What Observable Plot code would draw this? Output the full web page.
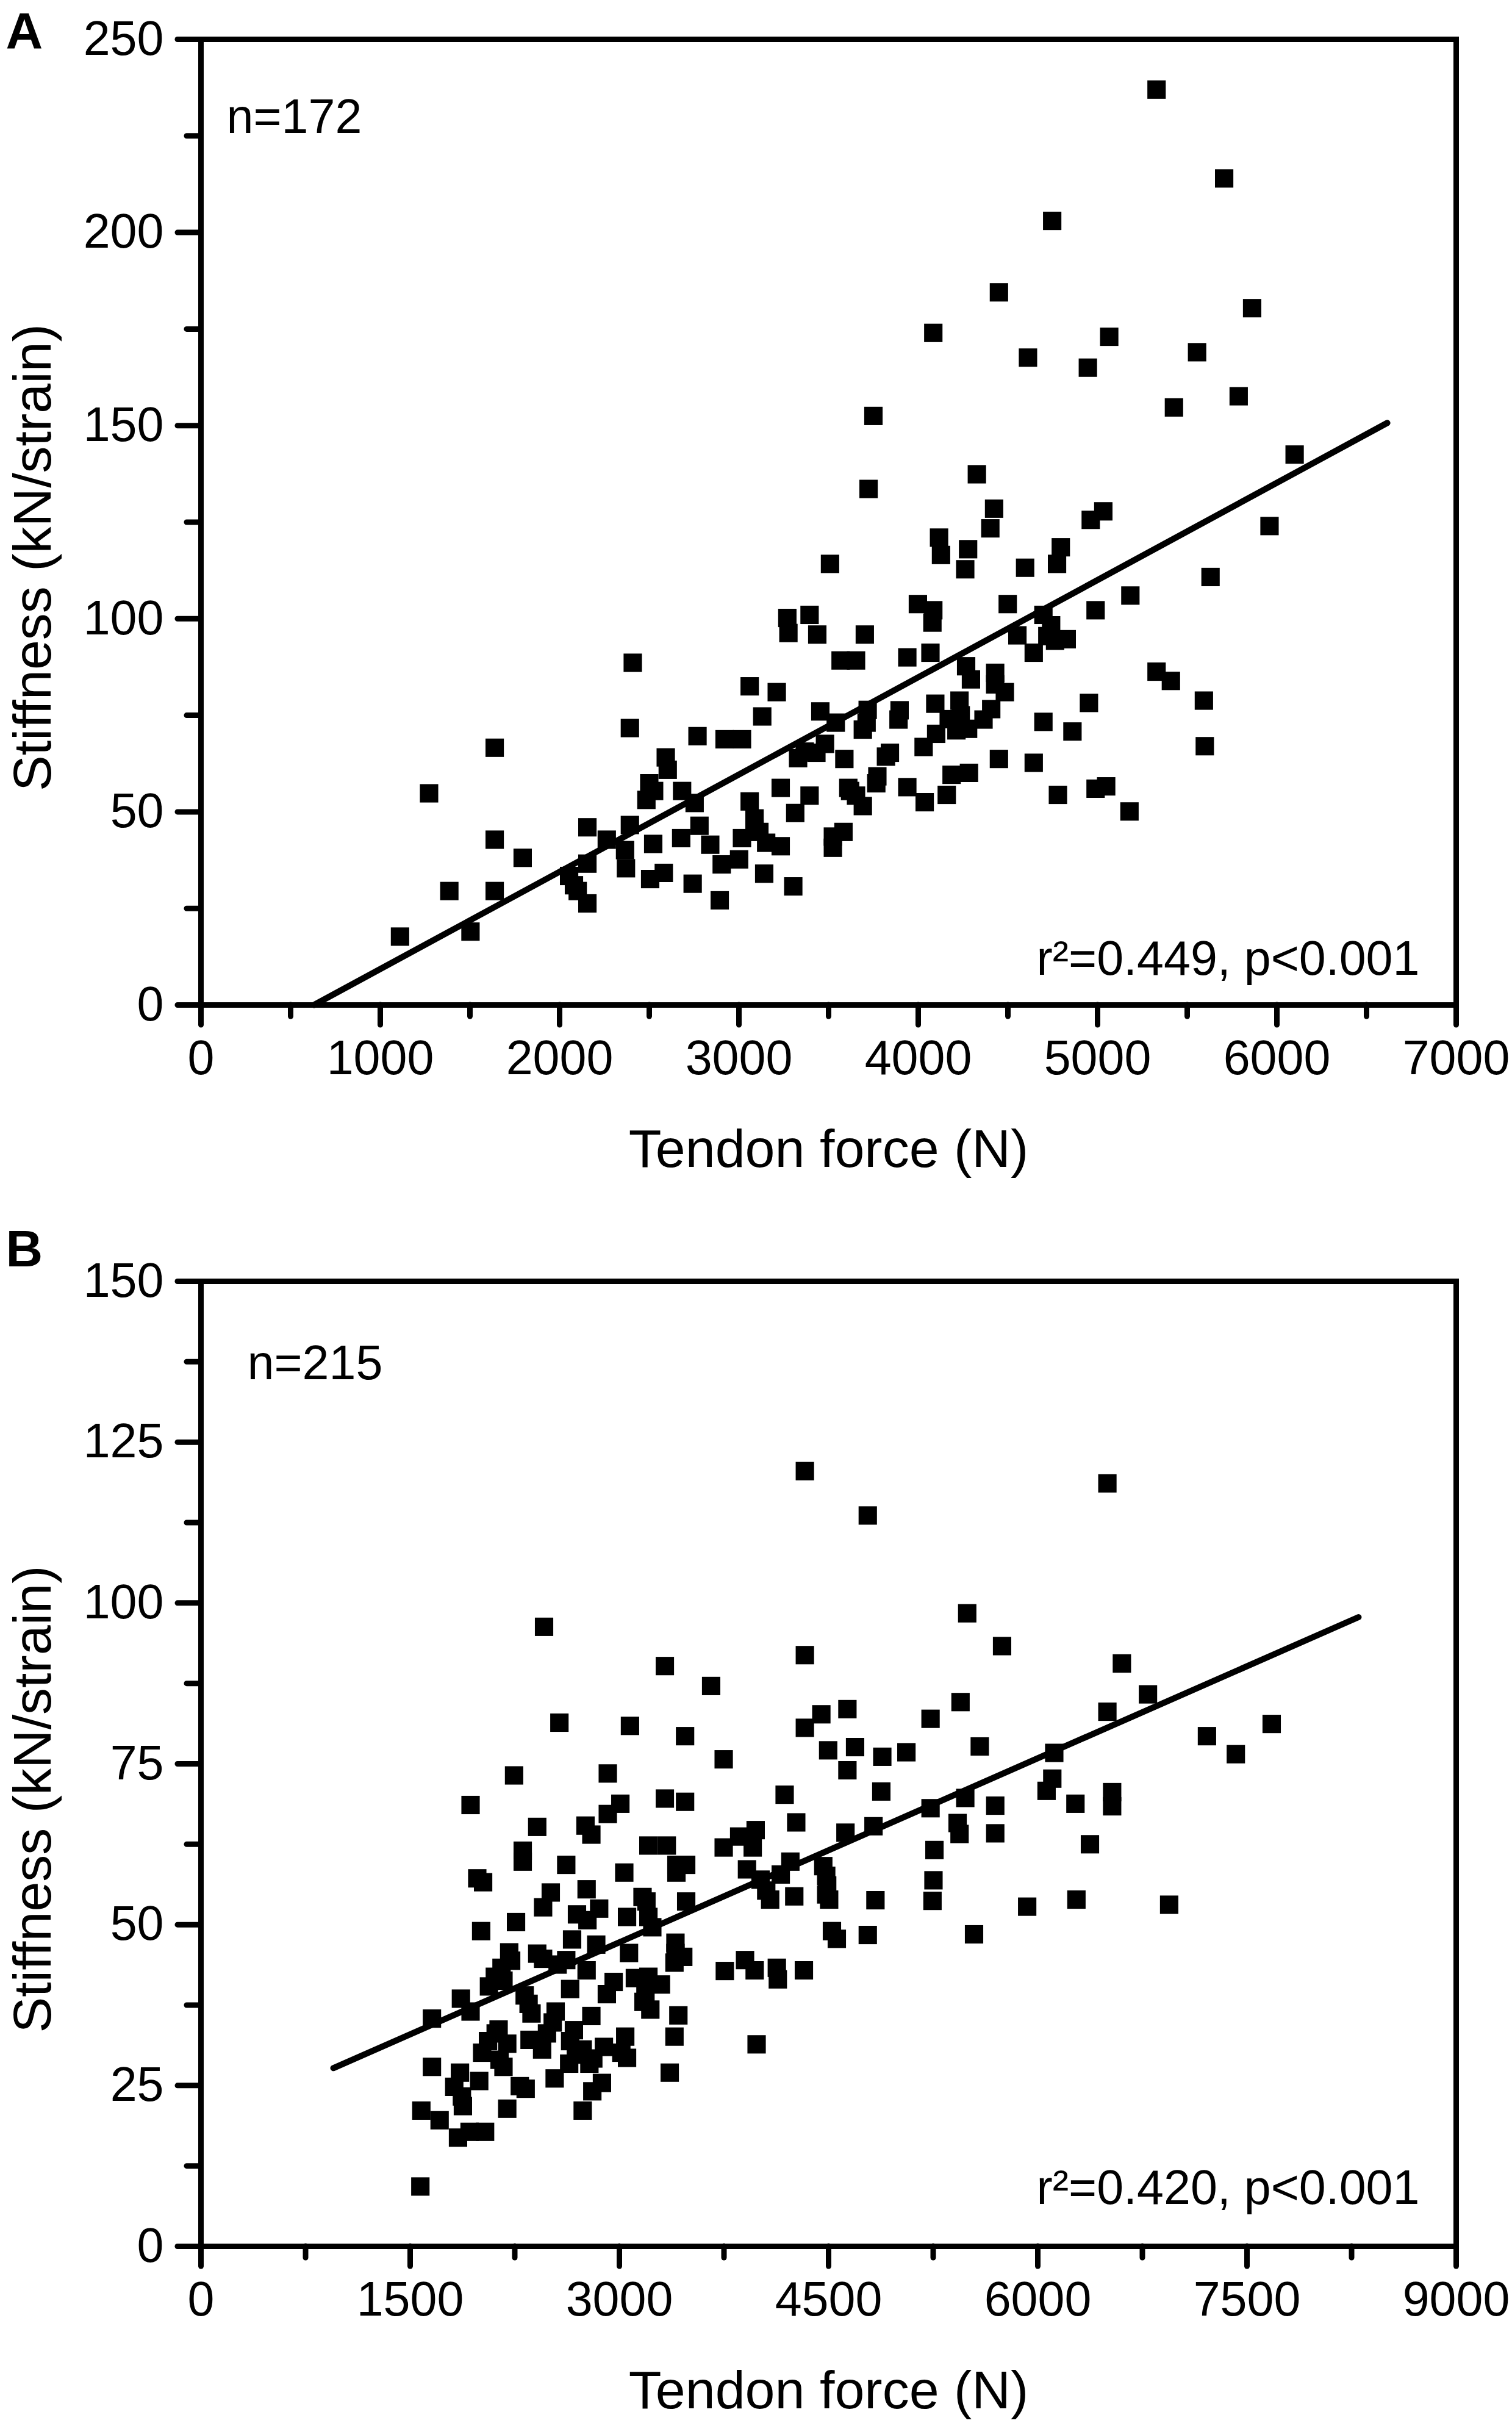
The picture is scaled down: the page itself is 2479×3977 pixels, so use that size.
<!DOCTYPE html>
<html>
<head>
<meta charset="utf-8">
<script src="https://cdn.jsdelivr.net/npm/d3@7"></script>
<script src="https://cdn.jsdelivr.net/npm/@observablehq/plot@0.6"></script>
<style>
  html, body { margin: 0; padding: 0; background: #fff; }
  svg { display: block; }
</style>
</head>
<body>
<div id="chart"></div>
<script>
// ---------- Panel A data ----------
const forceA = [5329,5706,4747,4450,5862,4084,5065,5555,4612,4946,5787,5426,3750,6099,3723,4327,4423,4402,5959,5032,
4962,4116,4127,4278,4795,4262,4774,4596,3508,5630,5183,3270,3394,3998,4084,4079,4499,4989,3276,3437,
3702,4553,4698,4741,4720,4763,4828,3567,3653,3939,4068,2408,4644,4267,4429,5329,5409,3060,3211,4294,
4429,4483,5593,4952,4095,4230,3454,3718,3130,3896,3890,4407,4364,4698,4170,4237,2392,2769,2920,3017,
3540,3691,3712,4860,4100,4213,4278,5598,1638,4030,3842,3820,2592,2603,3367,3480,3432,3588,3330,4450,
4644,4283,4186,3772,3766,3939,3610,3653,3691,2500,2527,2484,2683,2753,3233,3394,3620,4779,4989,5048,
4036,4159,5178,3060,3087,3314,1272,2155,2392,2780,3087,3114,3017,2263,2365,2522,2678,2840,3233,3152,
3524,3583,3524,1638,1794,2155,2370,2904,3001,2505,2581,2742,3141,3303,2053,2080,2101,2155,1385,1638,
2893,1503,1110];
const stiffA = [237,214,203,184.5,180.4,174,173,169,167.6,165,157.6,154.7,152.5,142.5,133.6,137.4,128.5,123.4,124,127.8,
125.6,121,116.5,118,118.5,112.8,114.2,113.2,114.2,110.8,106,100.2,101,103.8,102.2,99,103.8,102.2,96.3,95.9,
95.9,95.7,101,98.3,95.5,94.3,94.7,89.2,89.2,90,91.2,88.6,91.2,87.7,86,86.3,83.9,82.5,81,84.3,
83,81,78.8,78.2,78,78.8,76,76.4,74.7,76.3,73.9,76.6,73.9,73.3,74,75,71.7,69.6,68.8,68.8,
73.1,71.3,73.1,70.8,70.2,71.1,71.5,67,66.6,66.8,65.3,64.3,64.1,60.9,65.6,67.6,65.3,63.7,63.9,63.7,
62.7,60.1,59.6,59.2,57.4,56.4,56.2,54.2,51.5,57.4,55.4,53.1,55.4,52.3,56.2,54.2,55.4,54.4,56,56.6,
52.5,54.4,50.1,52.7,48.3,49.7,54.8,46,46.6,46.4,45.6,44.8,43.2,42.8,40.1,41.7,43.2,41.5,41.1,42,
43.6,44.8,40.7,42.8,38.1,36.6,35.4,36.4,37.7,32.6,34.2,31.4,34,30.7,33.4,31,29.5,26.3,29.5,29.5,
27.1,19,17.7];
const fitAx = [630, 6616];
const fitAy = [0, 150.7];
const xTicksA = [0,1000,2000,3000,4000,5000,6000,7000];
const xMinorA = [500,1500,2500,3500,4500,5500,6500];
const yTicksA = [0,50,100,150,200,250];
const yMinorA = [25,75,125,175,225];

// ---------- Panel B data ----------
const forceB = [4330,6499,4781,2460,5494,5744,4330,3326,6603,3658,6790,4635,4448,5446,6499,4330,5231,2570,3076,3471,
7677,7213,7420,4497,4690,5058,4885,3748,5584,6118,2245,4635,2917,6104,3326,3471,3007,1933,4185,4878,
5480,6063,6533,6533,6270,5695,5231,2917,2757,2411,2799,4621,4822,5425,5439,5695,4268,3977,3748,3859,
3208,3340,3956,6374,2307,5259,2619,2307,3409,3479,3035,3915,4226,4462,4157,3409,1981,2023,4012,4483,
4490,4483,4504,5252,4053,2508,2765,3166,3194,3479,4081,4254,4836,5245,5924,6277,6942,2453,2696,3055,
2771,2259,2855,3208,3236,2009,4524,4559,4781,5543,2661,2834,3069,3402,3402,3458,2210,2411,2453,2557,
2619,3395,3756,3901,3970,4136,4129,4323,2224,2765,2155,2107,2169,2959,3111,3208,3298,2647,1864,2065,
2321,2349,3187,3173,3222,2910,1933,1656,2370,2543,2799,3423,2522,2134,2113,2356,2674,3042,3395,2481,
2058,2196,2446,2647,2737,2889,3014,3984,2016,2141,2688,2813,3055,2640,1656,2169,2785,1857,3361,1995,
2875,2286,2328,1816,1871,2806,2536,1878,2196,1580,2737,1711,1926,2037,1843,1573];
const stiffB = [120.5,118.6,113.6,96.3,98.4,93.3,91.9,90.2,90.6,87.1,85.8,83.5,82.7,84.6,83.1,80.6,82,81.4,80.9,79.3,
81.2,79.3,76.5,77.1,77.6,76.8,76.1,75.7,77.7,76.7,73.2,74,73.5,72.7,69.6,69.1,68.8,68.6,70.2,70.7,
69.7,70.8,70.6,68.4,68.8,68.5,68.1,67.2,65.4,65.2,64,64.3,65.3,65.8,64.1,64.2,65.9,64.7,62,63.7,
62.3,62.3,62,62.5,61.5,61.6,59.3,59.8,59.3,59.3,58.1,58.6,59.8,59.1,57.8,58.1,57.2,56.6,57,57.6,
56.1,54.7,53.9,56.9,55.3,55,55.5,54.3,53.6,53.6,53.9,54.4,53.8,53.7,52.8,53.9,53.1,52.7,51.6,51.2,
50.7,50.4,52.5,51.2,49.6,49,49,47.8,48.4,48.5,47.7,46.9,45.6,47.2,45.6,45,45.7,45.5,44.7,43.8,
44.5,44.1,42.8,44.5,42.9,41.5,43.3,42.9,44.4,42.9,43.3,41.9,41.3,41.1,41.7,41.9,40.7,40,38.5,40.4,
39,37.7,39.5,38,36.8,39.2,36.5,35.4,36.2,36.5,35.8,35.9,34.8,33.7,33.1,32.1,33.6,32.6,32.6,33.1,
31.9,31.5,30.6,31.9,30.6,31,30.1,31.4,30.1,29,29.8,29.2,29.3,28.4,27.9,27.9,28.4,27,27,25.7,
25.4,24.9,24.5,24.8,23.3,24.1,26.1,21.8,21.4,21.1,21.1,19.6,17.8,17.8,16.9,9.3];
const fitBx = [949, 8300];
const fitBy = [27.7, 97.8];
const xTicksB = [0,1500,3000,4500,6000,7500,9000];
const xMinorB = [750,2250,3750,5250,6750,8250];
const yTicksB = [0,25,50,75,100,125,150];
const yMinorB = [12.5,37.5,62.5,87.5,112.5,137.5];

const xLabel = "Tendon force (N)";
const yLabel = "Stiffness (kN/strain)";

function panel(o) {
  const pts = o.fx.map((f, i) => ({f, s: o.sy[i]}));
  const fit = o.lx.map((f, i) => ({f, s: o.ly[i]}));
  return Plot.plot({
    width: 2479,
    height: o.height,
    marginLeft: 329,
    marginRight: 92,
    marginTop: o.mt,
    marginBottom: o.mb,
    style: {fontFamily: "'Liberation Sans', Arial, sans-serif", fontSize: "79px", color: "black", background: "white", overflow: "visible"},
    x: {domain: o.xd},
    y: {domain: o.yd},
    marks: [
      Plot.axisX({ticks: o.xt, tickSize: 33, tickPadding: 24, strokeWidth: 9, strokeLinecap: "round", tickFormat: "d", label: null}),
      Plot.axisX({ticks: o.xm, tickSize: 19, strokeWidth: 9, strokeLinecap: "round", text: null, label: null}),
      Plot.axisY({ticks: o.yt, tickSize: 38, tickPadding: 23, strokeWidth: 9, strokeLinecap: "round", tickFormat: "d", label: null}),
      Plot.axisY({ticks: o.ym, tickSize: 23, strokeWidth: 9, strokeLinecap: "round", text: null, label: null}),
      Plot.frame({strokeWidth: 9}),
      Plot.line(fit, {x: "f", y: "s", stroke: "black", strokeWidth: 10}),
      Plot.dot(pts, {x: "f", y: "s", symbol: "square", r: 17, fill: "black", stroke: "none"}),
      Plot.text([o.n], {text: d => d, frameAnchor: "top-left", dx: o.ndx, dy: o.ndy, textAnchor: "start", lineAnchor: "bottom"}),
      Plot.text([o.r], {text: d => d, frameAnchor: "bottom-right", dx: -60, dy: o.rdy, textAnchor: "end", lineAnchor: "bottom"}),
      Plot.text([xLabel], {text: d => d, frameAnchor: "bottom", dy: 265, textAnchor: "middle", lineAnchor: "bottom", fontSize: 88}),
      Plot.text([yLabel], {text: d => d, frameAnchor: "left", dx: -247, dy: 58, rotate: -90, textAnchor: "middle", lineAnchor: "bottom", fontSize: 88}),
      Plot.text([o.tag], {text: d => d, frameAnchor: "top-left", dx: -320, dy: o.tdy, textAnchor: "start", lineAnchor: "top", fontSize: 84, fontWeight: "bold"})
    ]
  });
}

const chart = document.getElementById("chart");
chart.append(panel({
  fx: forceA, sy: stiffA, lx: fitAx, ly: fitAy,
  xd: [0, 7000], yd: [0, 250], xt: xTicksA, xm: xMinorA, yt: yTicksA, ym: yMinorA,
  height: 1990, mt: 64, mb: 343,
  n: "n=172", ndx: 42, ndy: 153,
  r: "r²=0.449, p<0.001", rdy: -50,
  tag: "A", tdy: -44
}));
chart.append(panel({
  fx: forceB, sy: stiffB, lx: fitBx, ly: fitBy,
  xd: [0, 9000], yd: [0, 150], xt: xTicksB, xm: xMinorB, yt: yTicksB, ym: yMinorB,
  height: 1987, mt: 110, mb: 295,
  n: "n=215", ndx: 76, ndy: 160,
  r: "r²=0.420, p<0.001", rdy: -70,
  tag: "B", tdy: -84
}));
</script>
</body>
</html>
